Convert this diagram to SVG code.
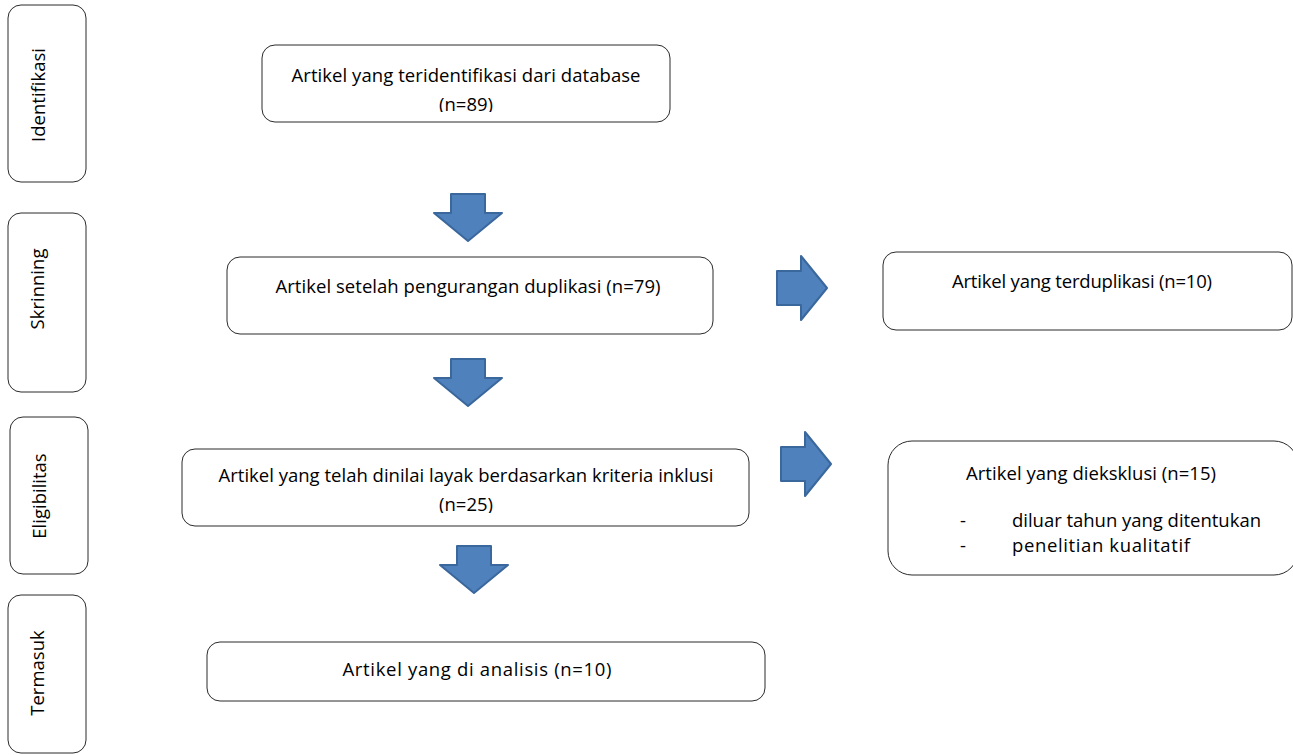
<svg xmlns="http://www.w3.org/2000/svg" width="1293" height="755" viewBox="0 0 1293 755">
<style>
.box{fill:#fff;stroke:#2b2b2b;stroke-width:1}
.t{font-family:"Open Sans","Liberation Sans",sans-serif;fill:#000}
.m{text-anchor:middle}
.arr{fill:#4F81BD;stroke:#3A679C;stroke-width:2;stroke-linejoin:round}
</style>
<defs>
<clipPath id="c1"><rect x="262" y="45" width="408" height="67"/></clipPath>
<clipPath id="c4"><rect x="182" y="449" width="567" height="64"/></clipPath>
</defs>
<rect width="1293" height="755" fill="#fff"/>

<g id="stage-identifikasi">
<rect class="box" x="8" y="5" width="78" height="177" rx="13"/>
<text class="t m" font-size="18.5" transform="translate(45 95) rotate(-90)">Identifikasi</text>
</g>
<g id="stage-skrinning">
<rect class="box" x="8" y="213" width="78" height="179" rx="13"/>
<text class="t m" font-size="18.5" transform="translate(44 289) rotate(-90)">Skrinning</text>
</g>
<g id="stage-eligibilitas">
<rect class="box" x="10" y="417" width="78" height="157" rx="13"/>
<text class="t m" font-size="18.5" transform="translate(46 496) rotate(-90)">Eligibilitas</text>
</g>
<g id="stage-termasuk">
<rect class="box" x="8" y="595" width="78" height="158" rx="13"/>
<text class="t m" font-size="18.5" transform="translate(44 673) rotate(-90)">Termasuk</text>
</g>

<g id="n-identified">
<rect class="box" x="262" y="45" width="408" height="77" rx="13"/>
<text class="t m" font-size="18.5" x="466" y="82" textLength="349">Artikel yang teridentifikasi dari database</text>
<text class="t m" font-size="18.5" x="466" y="111" clip-path="url(#c1)">(n=89)</text>
</g>
<g id="n-dedup">
<rect class="box" x="227" y="257" width="486" height="77" rx="13"/>
<text class="t m" font-size="18.5" x="468" y="293" textLength="385">Artikel setelah pengurangan duplikasi (n=79)</text>
</g>
<g id="n-duplicates">
<rect class="box" x="883" y="252" width="409" height="78" rx="13"/>
<text class="t m" font-size="18.5" x="1082" y="288" textLength="260">Artikel yang terduplikasi (n=10)</text>
</g>
<g id="n-eligible">
<rect class="box" x="182" y="449" width="567" height="77" rx="13"/>
<text class="t m" font-size="18.5" x="466" y="482" textLength="495">Artikel yang telah dinilai layak berdasarkan kriteria inklusi</text>
<text class="t m" font-size="18.5" x="466" y="511" clip-path="url(#c4)">(n=25)</text>
</g>
<g id="n-excluded">
<rect class="box" x="888" y="441" width="410" height="134" rx="24"/>
<text class="t m" font-size="18.5" x="1091" y="480" textLength="250">Artikel yang dieksklusi (n=15)</text>
<text class="t" font-size="18.5" x="960" y="527">-</text>
<text class="t" font-size="18.5" x="1012" y="527" textLength="249">diluar tahun yang ditentukan</text>
<text class="t" font-size="18.5" x="960" y="552">-</text>
<text class="t" font-size="18.5" x="1012" y="552" textLength="178">penelitian kualitatif</text>
</g>
<g id="n-analyzed">
<rect class="box" x="207" y="642" width="558" height="59" rx="13"/>
<text class="t m" font-size="18.5" x="477" y="676" textLength="269">Artikel yang di analisis (n=10)</text>
</g>

<g id="connectors">
<path class="arr" d="M451 194 H485 V213 H502 L468 241 L434 213 H451 Z"/>
<path class="arr" d="M451 359 H485 V378 H502 L468 406 L434 378 H451 Z"/>
<path class="arr" d="M457 546 H491 V565 H508 L474 593 L440 565 H457 Z"/>
<path class="arr" d="M777 271 H801 V256 L827 288 L801 320 V305 H777 Z"/>
<path class="arr" d="M781 447 H805 V432 L831 464 L805 496 V481 H781 Z"/>
</g>
</svg>
